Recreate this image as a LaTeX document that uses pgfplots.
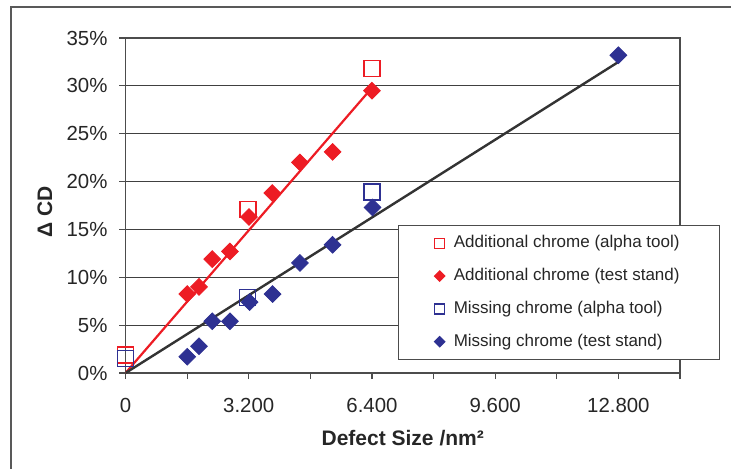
\documentclass[border=0pt]{standalone}
\usepackage{pgfplots}
\pgfplotsset{compat=1.18}
\usepackage{fontspec}
\setmainfont{Liberation Sans}
\definecolor{xred}{RGB}{237,28,36}
\definecolor{xblue}{RGB}{46,49,146}
\definecolor{xgrid}{RGB}{64,64,64}
\begin{document}
\begin{tikzpicture}[x=1pt,y=1pt]
\path[use as bounding box] (-62.75,-47.5) rectangle (302.75,186.5);
\draw[black!65, line width=1pt] (-57.25,-60) -- (-57.25,183) -- (320,183);
\begin{axis}[
  at={(0,0)}, anchor=south west,
  scale only axis, width=277.25pt, height=167.5pt,
  xmin=0, xmax=14400, ymin=0, ymax=35,
  scaled x ticks=false, scaled y ticks=false,
  xtick={0,3200,6400,9600,12800},
  minor xtick={1600,4800,8000,11200,14400},
  ytick={0,5,...,35},
  ymajorgrids, major grid style={xgrid, line width=0.6pt},
  tick align=outside, major tick length=3pt, minor tick length=3pt,
  tick style={black!70, line width=0.6pt},
  minor tick style={black!70, line width=0.6pt},
  tick pos=left,
  axis line style={black!70, line width=0.6pt},
  ticklabel style={font=\fontsize{10.2}{12}\selectfont, text=black!85},
  xticklabel style={yshift=-6pt},
  yticklabel style={xshift=-2.5pt},
  /pgf/number format/.cd, 1000 sep={.}, assume math mode=true, /pgfplots/.cd,
  xticklabel={\pgfmathprintnumber[fixed,precision=0,1000 sep={.}]{\tick}},
  yticklabel={\pgfmathprintnumber{\tick}\%},
  xlabel={\textbf{Defect Size /nm²}},
  ylabel={\textbf{Δ CD}},
  label style={font=\fontsize{10.5}{12}\selectfont, text=black!85},
  xlabel style={at={(axis description cs:0.5,-0.194)}, anchor=center},
  ylabel style={at={(axis description cs:-0.1452,0.4815)}, anchor=center},
  legend image code/.code={\draw[#1] plot coordinates {(0pt,0pt)};},
  legend cell align=left,
  legend style={at={(axis description cs:0.4914,0.4418)}, anchor=north west,
    draw=black!70, line width=0.6pt, fill=white,
    font=\fontsize{8.5}{10}\selectfont, text=black!85,
    inner xsep=18pt, inner ysep=3pt, row sep=4.75pt,
    /tikz/every odd column/.append style={column sep=2.5pt}},
]
% red alpha tool
\addplot[only marks, mark=square, mark size=4pt, mark options={draw=xred, fill=none, line width=0.8pt}, forget plot]
  coordinates {(0,1.88) (3180,17.1) (6400,31.8)};
% red test stand
\addplot[only marks, mark=square*, mark size=2.95pt, mark options={rotate=45, draw=xred, fill=xred}, forget plot]
  coordinates {(1604,8.25) (1908,9.0) (2253,11.9) (2712,12.7) (3205,16.3) (3811,18.8) (4530,22.0) (5378,23.1) (6400,29.5)};
% blue alpha tool
\addplot[only marks, mark=square, mark size=4pt, mark options={draw=xblue, fill=none, line width=0.8pt}, forget plot]
  coordinates {(0,1.53) (3163,7.9) (6400,18.9)};
% blue test stand
\addplot[only marks, mark=square*, mark size=2.95pt, mark options={rotate=45, draw=xblue, fill=xblue}, forget plot]
  coordinates {(1604,1.7) (1908,2.8) (2253,5.4) (2712,5.4) (3223,7.4) (3820,8.25) (4530,11.5) (5378,13.4) (6415,17.3) (12800,33.2)};
% trendlines
\addplot[xred, line width=1.1pt, forget plot] coordinates {(0,0) (6400,29.8)};
\addplot[black!80, line width=1.2pt, forget plot] coordinates {(0,0) (12800,32.5)};
% legend
\addlegendimage{mark=square, mark size=2.5pt, mark options={draw=xred, fill=none, line width=0.6pt}}
\addlegendentry{Additional chrome (alpha tool)}
\addlegendimage{mark=square*, mark size=1.8pt, mark options={rotate=45, draw=xred, fill=xred}}
\addlegendentry{Additional chrome (test stand)}
\addlegendimage{mark=square, mark size=2.5pt, mark options={draw=xblue, fill=none, line width=0.6pt}}
\addlegendentry{Missing chrome (alpha tool)}
\addlegendimage{mark=square*, mark size=1.8pt, mark options={rotate=45, draw=xblue, fill=xblue}}
\addlegendentry{Missing chrome (test stand)}
\end{axis}
\end{tikzpicture}
\end{document}
